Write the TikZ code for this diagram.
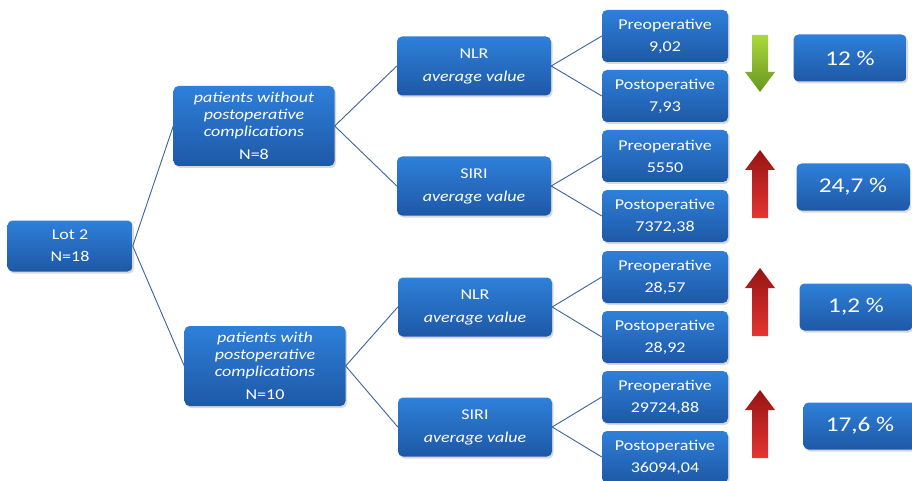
\documentclass[tikz,border=0pt]{standalone}
\usepackage{fontspec}
\setmainfont{Carlito}[FakeStretch=1.2]
\usetikzlibrary{shadows}
\definecolor{box_top}{RGB}{46,128,218}
\definecolor{box_bot}{RGB}{30,88,166}
\definecolor{link_blue}{RGB}{58,98,160}
\definecolor{up_dark}{RGB}{150,20,20}
\definecolor{up_light}{RGB}{230,52,50}
\definecolor{down_light}{RGB}{172,216,62}
\definecolor{down_dark}{RGB}{104,150,30}

\begin{document}
\begin{tikzpicture}[x=1pt, y=-1pt,
    box/.style={rounded corners=5pt, top color=box_top, bottom color=box_bot,
      text=white, align=center, inner sep=0pt,
      drop shadow={shadow xshift=1.5pt, shadow yshift=-2pt, opacity=0.3}},
    lotbox/.style={box, minimum width=125pt, minimum height=51pt,
      font=\fontsize{15}{22}\selectfont},
    groupbox/.style={box, minimum width=161pt, minimum height=80pt,
      font=\fontsize{15}{17}\selectfont},
    markerbox/.style={box, minimum width=154pt, minimum height=59pt,
      font=\fontsize{15}{23}\selectfont},
    valbox/.style={box, minimum width=126pt, minimum height=52pt,
      font=\fontsize{15}{22}\selectfont},
    pctbox/.style={box, minimum width=113pt, minimum height=47pt,
      font=\fontsize{21}{24}\selectfont},
    link/.style={draw=link_blue, line width=0.9pt}]
  \useasboundingbox (0,0) rectangle (912,481);

  % Lot
  \node[lotbox] (lot) at (70,246) {Lot 2\\N=18};

  % Groupes
  \node[groupbox] (without) at (254,126)
    {\itshape patients without\\\itshape postoperative\\\itshape complications\\[6pt]N=8};
  \node[groupbox] (with) at (265,366)
    {\itshape patients with\\\itshape postoperative\\\itshape complications\\[6pt]N=10};
  \draw[link] (lot.east) -- (without.west);
  \draw[link] (lot.east) -- (with.west);

  % Marqueurs
  \node[markerbox] (nlrA) at (474,66) {NLR\\\itshape average value};
  \node[markerbox] (siriA) at (474,186) {SIRI\\\itshape average value};
  \node[markerbox] (nlrB) at (475,307) {NLR\\\itshape average value};
  \node[markerbox] (siriB) at (475,427) {SIRI\\\itshape average value};
  \draw[link] (without.east) -- (nlrA.west);
  \draw[link] (without.east) -- (siriA.west);
  \draw[link] (with.east) -- (nlrB.west);
  \draw[link] (with.east) -- (siriB.west);

  % Valeurs pre / post
  \foreach \n/\up/\y/\lab/\val in {
      preA/nlrA/36/Preoperative/{9,02},
      postA/nlrA/96/Postoperative/{7,93},
      preB/siriA/156/Preoperative/{5550},
      postB/siriA/216/Postoperative/{7372,38},
      preC/nlrB/277/Preoperative/{28,57},
      postC/nlrB/337/Postoperative/{28,92},
      preD/siriB/397/Preoperative/{29724,88},
      postD/siriB/457/Postoperative/{36094,04}} {
    \node[valbox] (\n) at (665,\y) {\lab\\\val};
    \draw[link] (\up.east) -- (\n.west);
  }

  % Pourcentages
  \node[pctbox] (pctA) at (850,58) {12 \%};
  \node[pctbox] (pctB) at (853,187) {24,7 \%};
  \node[pctbox] (pctC) at (856,307) {1,2 \%};
  \node[pctbox] (pctD) at (860,426) {17,6 \%};

  % Fleche baisse
  \shade[top color=down_light, bottom color=down_dark]
    (752,35) -- (768,35) -- (768,72) -- (775,72) -- (760,92)
    -- (745,72) -- (752,72) -- cycle;

  % Fleches hausse
  \foreach \t in {150,268,390} {
    \shade[top color=up_dark, bottom color=up_light]
      (760,\t) -- (775,\t+20) -- (768,\t+20) -- (768,\t+68) -- (752,\t+68)
      -- (752,\t+20) -- (745,\t+20) -- cycle;
  }
\end{tikzpicture}
\end{document}
